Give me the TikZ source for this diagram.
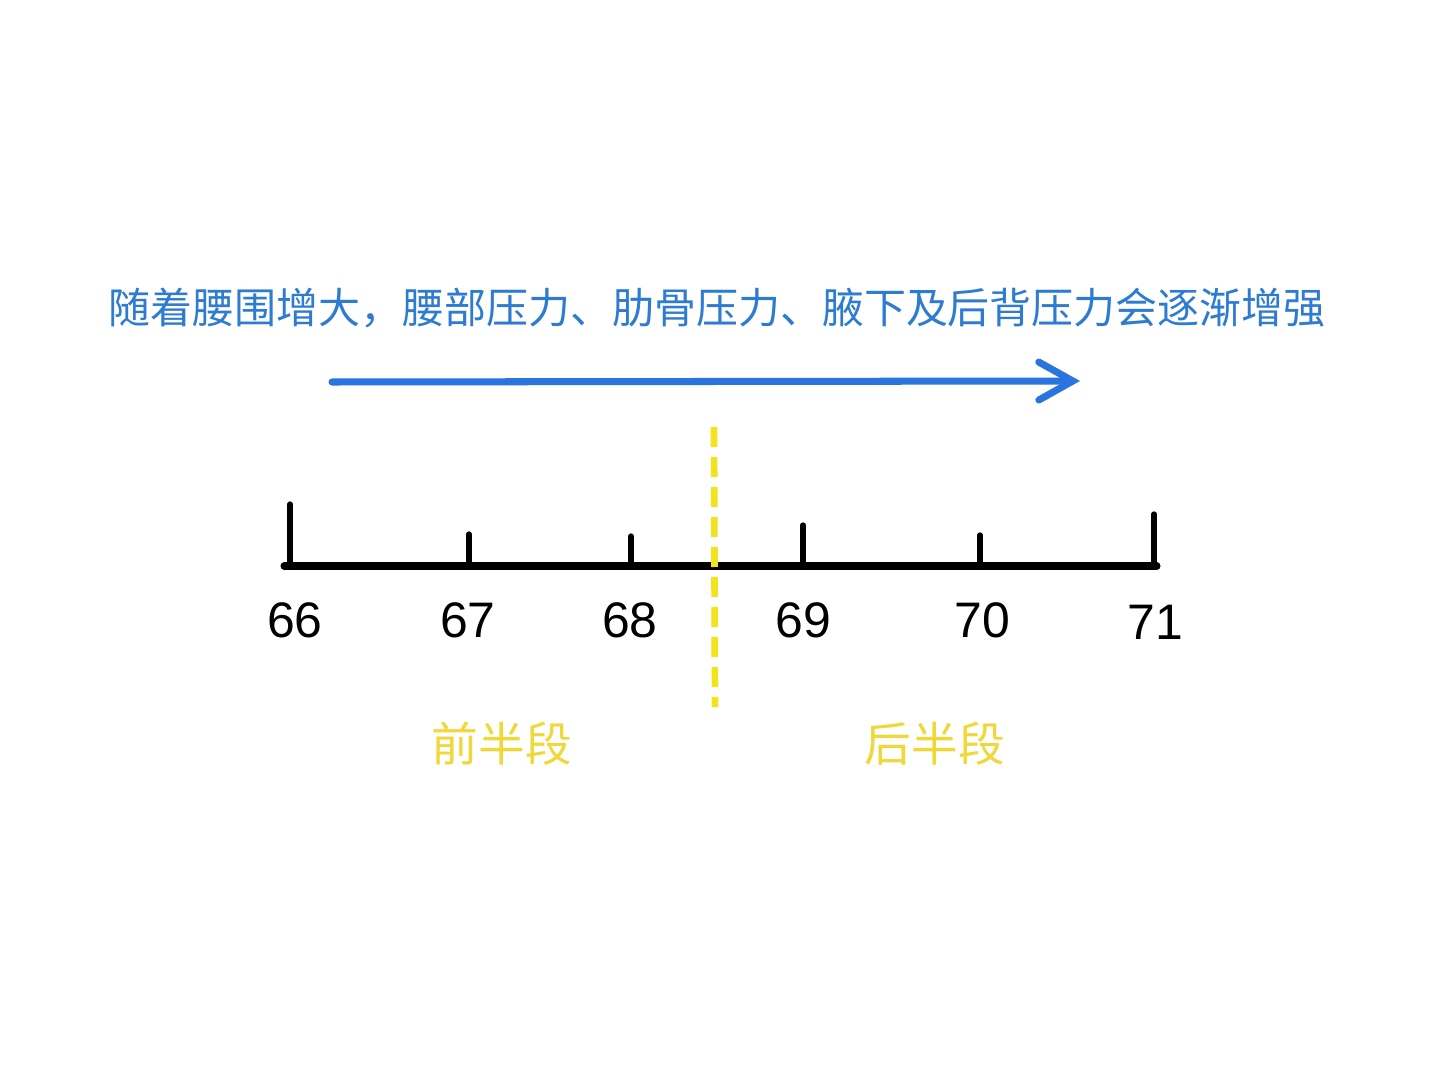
\documentclass[tikz,border=0pt]{standalone}
\usepackage{fontspec}
\setmainfont{Liberation Sans}
\newfontfamily\cjk{Noto Sans CJK SC}
\usetikzlibrary{arrows.meta}
\definecolor{arrowblue}{HTML}{2A74E0}
\definecolor{textblue}{HTML}{2E7BD2}
\definecolor{splityellow}{HTML}{F2E31E}
\definecolor{textyellow}{HTML}{EFD83A}
\tikzset{
  tickmark/.style={line width=1.5pt, line cap=round},
  ticklabel/.style={font=\fontsize{14.2}{16}\selectfont, inner sep=0pt},
  halflabel/.style={font=\cjk\fontsize{13.3}{16}\selectfont, text=textyellow, inner sep=0pt}
}
\begin{document}
\begin{tikzpicture}[scale=1.0]
  \useasboundingbox[fill=white] (0,0) rectangle (14.40,10.79);

  % Heading
  \node[font=\cjk\fontsize{11.95}{14}\selectfont, text=textblue, inner sep=0pt] (heading) at (7.17,7.71)
    {随着腰围增大，腰部压力、肋骨压力、腋下及后背压力会逐渐增强};

  % Growth arrow
  \coordinate (arrowstart) at (3.32,6.97);
  \coordinate (arrowend) at (10.80,6.98);
  \draw[arrowblue, line width=2pt, line cap=round,
    -{Straight Barb[length=3.4mm, width=3.8mm, line cap=round]}] (arrowstart) -- (arrowend);

  % Axis
  \coordinate (axisleft) at (2.84,5.13);
  \coordinate (axisright) at (11.57,5.13);
  \draw[line width=2pt, line cap=round] (axisleft) -- (axisright);

  % 66
  \draw[tickmark] (2.90,5.13) -- (2.90,5.75);
  \node[ticklabel] (l66) at (2.95,4.59) {66};

  % 67
  \draw[tickmark] (4.69,5.13) -- (4.69,5.45);
  \node[ticklabel] (l67) at (4.68,4.59) {67};

  % 68
  \draw[tickmark] (6.31,5.13) -- (6.31,5.43);
  \node[ticklabel] (l68) at (6.30,4.59) {68};

  % 69
  \draw[tickmark] (8.03,5.13) -- (8.03,5.54);
  \node[ticklabel] (l69) at (8.03,4.59) {69};

  % 70
  \draw[tickmark] (9.80,5.13) -- (9.80,5.44);
  \node[ticklabel] (l70) at (9.82,4.59) {70};

  % 71
  \draw[tickmark] (11.54,5.13) -- (11.54,5.65);
  \node[ticklabel] (l71) at (11.55,4.57) {71};

  % Split line
  \coordinate (splittop) at (7.14,6.52);
  \coordinate (splitbottom) at (7.15,3.72);
  \draw[splityellow, line width=1.9pt, dash pattern=on 0.2cm off 0.1cm] (splittop) -- (splitbottom);

  % Half labels
  \node[halflabel] (firsthalf) at (5.02,3.35) {前半段};
  \node[halflabel] (secondhalf) at (9.35,3.35) {后半段};

\end{tikzpicture}
\end{document}
